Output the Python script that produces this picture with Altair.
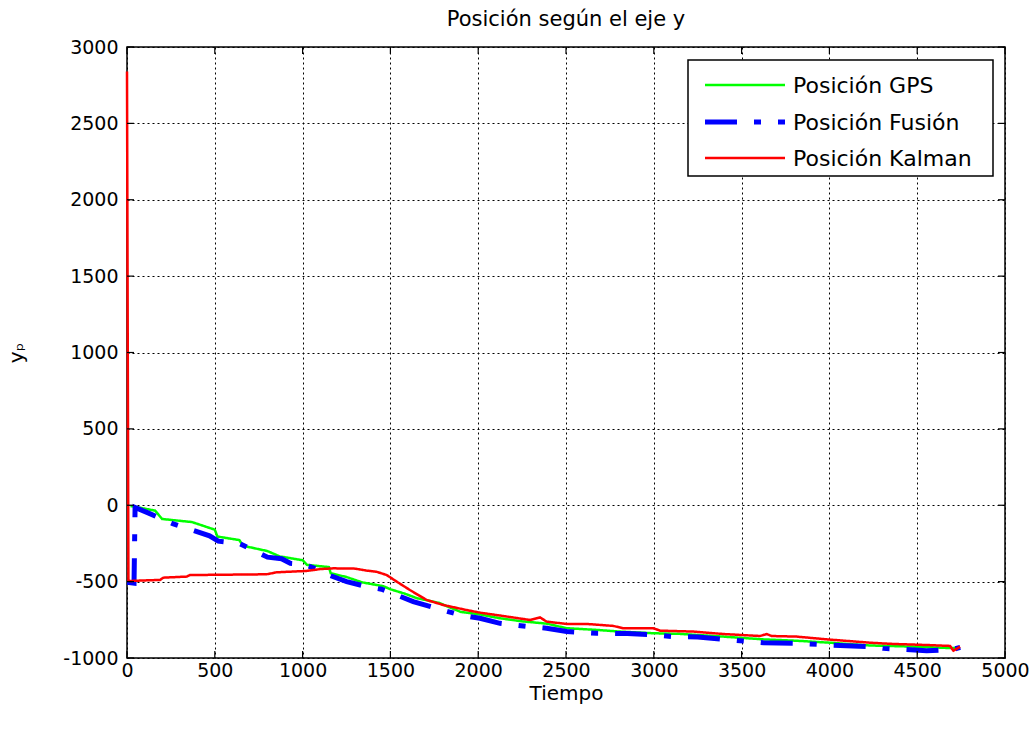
import altair as alt
import pandas as pd

FONT = "DejaVu Sans"

series_names = ["Posición GPS", "Posición Fusión", "Posición Kalman"]
series_colors = ["#00ff00", "#0000ff", "#ff0000"]
series_dash = [[1, 0], [32, 17, 7, 17], [1, 0]]
series_width = [2.5, 5, 2.5]

# Posición GPS
gps_t = [20, 160, 200, 370, 500, 515, 640, 660, 800, 870, 1000, 1025, 1150, 1160, 1250,
         1340, 1460, 1500, 1580, 1650, 1780, 1830, 1900, 2010, 2124, 2250, 2390, 2504,
         2675, 2807, 2997, 3150, 3396, 3624, 3814, 4003, 4231, 4497, 4687, 4740]
gps_v = [-5, -35, -90, -110, -160, -205, -228, -265, -300, -335, -360, -390, -405, -445, -470,
         -505, -530, -550, -578, -608, -640, -665, -698, -715, -740, -760, -775, -805,
         -816, -827, -838, -842, -860, -878, -887, -900, -918, -926, -935, -935]

# Posición Fusión
fus_t = [0, 40, 46, 120, 200, 260, 470, 520, 640, 800, 880, 930, 1000, 1100, 1156, 1251,
         1365, 1450, 1536, 1630, 1763, 1896, 2010, 2124, 2295, 2390, 2504, 2675, 2850,
         2997, 3111, 3250, 3396, 3624, 3814, 4003, 4231, 4307, 4554, 4700, 4745]
fus_v = [-505, -510, -15, -50, -90, -120, -200, -235, -250, -340, -350, -380, -385, -425, -460, -500,
         -533, -550, -588, -631, -675, -718, -740, -773, -795, -805, -827, -838, -840,
         -849, -860, -862, -878, -900, -904, -915, -925, -937, -952, -945, -930]

# Posición Kalman
kal_t = [0, 8, 17, 100, 188, 207, 340, 358, 795, 852, 1023, 1099, 1175, 1300, 1365, 1420,
         1479, 1536, 1611, 1706, 1801, 1934, 2010, 2124, 2295, 2352, 2390, 2504, 2618, 2769,
         2826, 2997, 3036, 3225, 3396, 3605, 3643, 3670, 3814, 3985, 4156, 4231, 4364, 4554,
         4687, 4706, 4744]
kal_v = [2840, -490, -496, -492, -489, -474, -467, -457, -452, -439, -430, -418, -413, -415, -428, -435,
         -457, -500, -555, -620, -653, -686, -703, -722, -751, -734, -762, -777, -777, -790,
         -805, -805, -821, -827, -843, -856, -843, -856, -860, -878, -893, -900, -908, -915,
         -921, -952, -926]

x_ticks = [0, 500, 1000, 1500, 2000, 2500, 3000, 3500, 4000, 4500, 5000]
y_ticks = [-1000, -500, 0, 500, 1000, 1500, 2000, 2500, 3000]

rows = []
for name, ts, vs in zip(series_names, [gps_t, fus_t, kal_t], [gps_v, fus_v, kal_v]):
    for t, v in zip(ts, vs):
        rows.append({"serie": name, "t": t, "v": v})
df = pd.DataFrame(rows)

xs = alt.Scale(domain=[0, 5000], nice=False, zero=False)
ys = alt.Scale(domain=[-1000, 3000], nice=False, zero=False)

enc = dict(
    x=alt.X("t:Q", scale=xs,
            axis=alt.Axis(values=x_ticks, title="Tiempo", labelPadding=3, titlePadding=3,
                          labelFlush=False, labelOverlap=False,
                          labelExpr="toString(datum.value)")),
    y=alt.Y("v:Q", scale=ys,
            axis=alt.Axis(values=y_ticks, title="yₚ", labelPadding=9, titlePadding=36,
                          labelOverlap=False, labelExpr="toString(datum.value)")),
    color=alt.Color("serie:N", scale=alt.Scale(domain=series_names, range=series_colors), legend=None),
    strokeDash=alt.StrokeDash("serie:N", scale=alt.Scale(domain=series_names, range=series_dash), legend=None),
    strokeWidth=alt.StrokeWidth("serie:N", scale=alt.Scale(type="ordinal", domain=series_names, range=series_width), legend=None),
)

base = alt.Chart(df).encode(**enc)
gps = base.transform_filter(alt.datum.serie == series_names[0]).mark_line()
fus = base.transform_filter(alt.datum.serie == series_names[1]).mark_line()
kal = base.transform_filter(alt.datum.serie == series_names[2]).mark_line()

# inward tick marks (Matlab style)
xt = pd.DataFrame({"t": x_ticks})
yt = pd.DataFrame({"v": y_ticks})
xtb = alt.Chart(xt).mark_rule(color="black", strokeWidth=1.2).encode(
    x=alt.X("t:Q", scale=xs), y=alt.value(611), y2=alt.value(604))
xtt = alt.Chart(xt).mark_rule(color="black", strokeWidth=1.2).encode(
    x=alt.X("t:Q", scale=xs), y=alt.value(0), y2=alt.value(7))
ytl = alt.Chart(yt).mark_rule(color="black", strokeWidth=1.2).encode(
    y=alt.Y("v:Q", scale=ys), x=alt.value(0), x2=alt.value(7))
ytr = alt.Chart(yt).mark_rule(color="black", strokeWidth=1.2).encode(
    y=alt.Y("v:Q", scale=ys), x=alt.value(878), x2=alt.value(871))

# legend box (drawn manually, Matlab style)
leg_df = pd.DataFrame({"serie": series_names})
leg_box = alt.Chart(leg_df.head(1)).mark_rect(fill="white", stroke="black", strokeWidth=1.5).encode(
    x=alt.value(561), x2=alt.value(866), y=alt.value(13), y2=alt.value(129))
leg_layers = [leg_box]
row_y = [38, 75, 111]
for i, name in enumerate(series_names):
    one = leg_df[leg_df["serie"] == name]
    leg_layers.append(
        alt.Chart(one).mark_rule(color=series_colors[i], strokeWidth=series_width[i],
                                 strokeDash=series_dash[i]).encode(
            x=alt.value(578), x2=alt.value(658), y=alt.value(row_y[i])))
    leg_layers.append(
        alt.Chart(one).mark_text(align="left", baseline="middle", font=FONT, fontSize=22,
                                 color="black").encode(
            text="serie:N", x=alt.value(666), y=alt.value(row_y[i] + 1)))

chart = alt.layer(gps, fus, kal, xtb, xtt, ytl, ytr, *leg_layers).properties(
    width=878, height=611,
    padding={"left": 127, "top": 47, "right": 31, "bottom": 71},
    autosize=alt.AutoSizeParams(type="none"),
    title=alt.Title("Posición según el eje y", font=FONT, fontSize=21, fontWeight="normal",
                    color="black", anchor="middle", offset=8),
).configure_view(stroke="black", strokeWidth=1.5).configure_axis(
    grid=True, gridColor="black", gridDash=[2, 3], gridWidth=1, gridOpacity=1,
    domain=False, ticks=False, labelFont=FONT, labelFontSize=19, labelColor="black",
    titleFont=FONT, titleFontSize=20, titleFontWeight="normal", titleColor="black",
)

chart.save("out.html", embed_options={"renderer": "svg", "actions": False})
